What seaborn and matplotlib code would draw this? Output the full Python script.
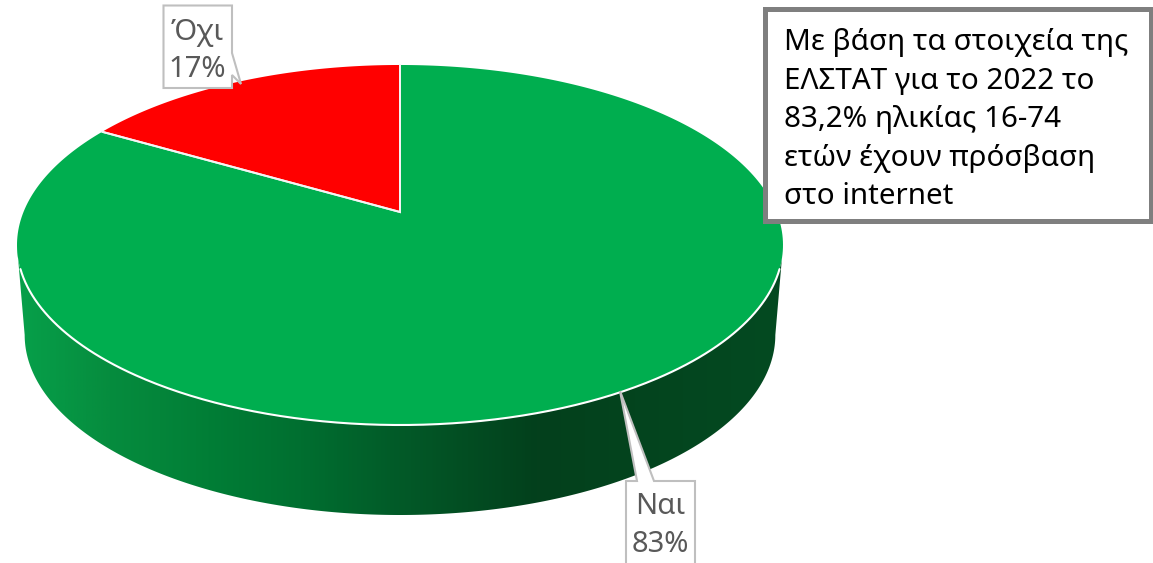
import numpy as np
import matplotlib
matplotlib.use("Agg")
import matplotlib.pyplot as plt
from matplotlib.colors import LinearSegmentedColormap
from matplotlib.patches import Polygon, Rectangle
import seaborn as sns

categories = ["Ναι", "Όχι"]
values = [83.4, 16.6]
slice_colors = ["#00AE4F", "#FF0000"]
note_lines = ["Με βάση τα στοιχεία της", "ΕΛΣΤΑΤ για το 2022 το", "83,2% ηλικίας 16-74",
              "ετών έχουν πρόσβαση", "στο internet"]

sns.set_theme(style="white")
plt.rcParams["font.family"] = ["Noto Sans", "DejaVu Sans"]

W, H = 1153, 563
fig = plt.figure(figsize=(W / 100, H / 100), dpi=100)
ax = fig.add_axes([0, 0, 1, 1])

# projective view of the pie disc
CX, APEX_Y, B, C = 400.0, 212.0, -135.1, 0.1833
D = 376.5
DEPTH, SHRINK = 90.0, 0.98


def project(u, v):
    w = 1 + C * v
    return CX + D * u / w, (APEX_Y + B * v) / w


def rim(theta):
    """theta measured clockwise from 12 o'clock"""
    return project(np.sin(theta), np.cos(theta))


# side wall with horizontal gradient
t_front = np.linspace(np.radians(90), np.radians(270), 300)
tx, ty = rim(t_front)
keep = ty >= 245
tx, ty = tx[keep], ty[keep]
# lower rim, from its right extreme to its left extreme
ext = np.degrees(np.arcsin(C))
t_low = np.linspace(np.radians(90 + ext), np.radians(270 - ext), 300)
lx, ly = rim(t_low)
lx = CX + SHRINK * (lx - CX)
ly = ly + DEPTH
side_xy = np.column_stack([np.r_[tx, lx[::-1]], np.r_[ty, ly[::-1]]])
side = Polygon(side_xy, closed=True, fc="none", ec="none", transform=ax.transData)
ax.add_patch(side)
cmap = LinearSegmentedColormap.from_list(
    "wall",
    [(0.0, "#06A04A"), (0.12, "#068C3E"), (0.25, "#017E36"), (0.37, "#006F30"),
     (0.5, "#025A28"), (0.68, "#03401C"), (1.0, "#044A21")],
)
grad = np.linspace(0, 1, 512).reshape(1, -1)
im = ax.imshow(grad, cmap=cmap, extent=[17, 782, 520, 240], aspect="auto", zorder=1)
im.set_clip_path(side)

# top face: slices run clockwise from 12 o'clock
edges = np.r_[0, np.cumsum(values)] / np.sum(values) * 2 * np.pi
for a0, a1, col in zip(edges[:-1], edges[1:], slice_colors):
    th = np.linspace(a0, a1, 300)
    x, y = rim(th)
    x0, y0 = project(0, 0)
    ax.fill(np.r_[x0, x], np.r_[y0, y], fc=col, ec="none", zorder=2)
    ax.plot([x[0], x0, x[-1]], [y[0], y0, y[-1]], color="#F4F4F4", lw=1.4, zorder=3,
            solid_joinstyle="miter")

# white front rim
th = np.linspace(np.radians(90), np.radians(270), 400)
x, y = rim(th)
m = y >= 268
ax.plot(x[m], y[m], color="white", lw=1.5, zorder=3)

# note box
ax.add_patch(Rectangle((764.5, 9), 386.5, 212, fc="white", ec="#7F7F7F", lw=3.6, zorder=5,
                       joinstyle="miter"))
for i, line in enumerate(note_lines):
    ax.text(784, 50 + i * 38.6, line, fontsize=21.3, color="black", ha="left", va="baseline", zorder=6)

# data callouts
EDGE, TXT = "#BFBFBF", "#595959"
pcts = [f"{v:.0f}%" for v in values]
ax.add_patch(Polygon([(163.5, 5.5), (232, 5.5), (232, 53), (241, 84), (232, 75), (232, 88), (163.5, 88)],
                     closed=True, fc="white", ec=EDGE, lw=1.5, zorder=7))
ax.text(197.5, 40, categories[1], fontsize=21, color=TXT, ha="center", va="baseline", zorder=8)
ax.text(197.5, 77, pcts[1], fontsize=21, color=TXT, ha="center", va="baseline", zorder=8)
ax.add_patch(Polygon([(626, 481), (637, 481), (620, 391), (654, 481), (695, 481), (695, 575), (626, 575)],
                     closed=True, fc="white", ec=EDGE, lw=1.5, zorder=7))
ax.text(660, 514, categories[0], fontsize=21, color=TXT, ha="center", va="baseline", zorder=8)
ax.text(660, 552, pcts[0], fontsize=21, color=TXT, ha="center", va="baseline", zorder=8)

ax.set_xlim(0, W)
ax.set_ylim(H, 0)
ax.axis("off")
fig.savefig("out.png", dpi=100, facecolor="white")
